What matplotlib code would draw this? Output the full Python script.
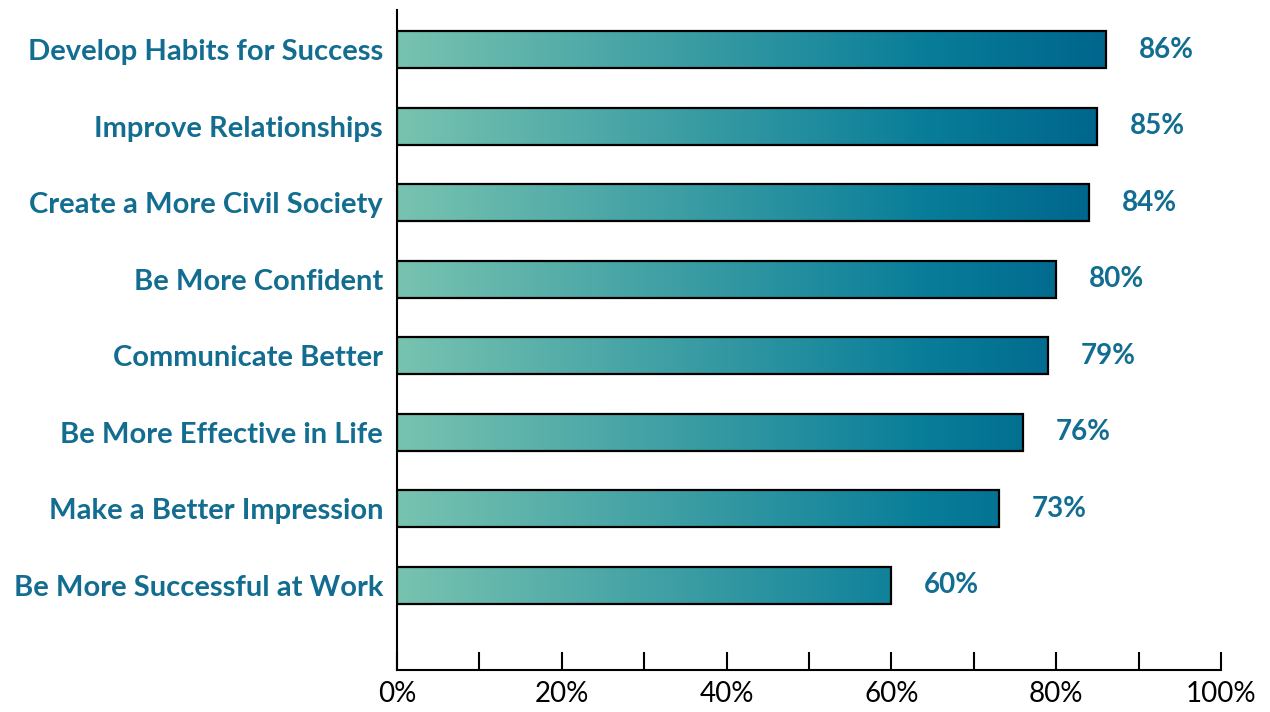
import numpy as np
from matplotlib import pyplot as plt
from matplotlib.colors import LinearSegmentedColormap

categories = ["Develop Habits for Success", "Improve Relationships",
              "Create a More Civil Society", "Be More Confident",
              "Communicate Better", "Be More Effective in Life",
              "Make a Better Impression", "Be More Successful at Work"]
values = [86, 85, 84, 80, 79, 76, 73, 60]
tick_labels = ["0%", "20%", "40%", "60%", "80%", "100%"]

label_color = "#126d91"
cmap = LinearSegmentedColormap.from_list(
    "teal", [(0.0, "#78c3b0"), (0.75, "#087d99"), (1.0, "#00658c")])

plt.rcParams["font.family"] = ["Lato", "DejaVu Sans"]

fig = plt.figure(figsize=(12.7, 7.12), dpi=100)
ax = fig.add_axes([0.3126, 0.059, 0.6488, 0.927])

bar_h = 0.485
ys = np.arange(len(values))
vmax = max(values)
for y, v in zip(ys, values):
    # gradient runs across the shared x scale, so shorter bars end lighter
    grad = np.linspace(0, v / vmax, 256).reshape(1, -1)
    ax.imshow(grad, cmap=cmap, vmin=0, vmax=1, aspect="auto",
              extent=(0, v, y + bar_h / 2, y - bar_h / 2), zorder=2,
              interpolation="bilinear")
ax.barh(ys, values, height=bar_h, facecolor="none", edgecolor="black",
        linewidth=1.6, zorder=3)

for y, v in zip(ys, values):
    ax.text(v + 4, y, f"{v}%", va="center", ha="left", fontsize=20,
            fontweight="bold", color=label_color)

ax.set_xlim(0, 100)
ax.set_ylim(len(values) - 1 + 1.11, -0.52)
ax.set_yticks(ys)
ax.set_yticklabels(categories, fontsize=21, fontweight="bold", color=label_color)
ax.tick_params(axis="y", length=0, pad=10)

ax.set_xticks(np.arange(0, 101, 20))
ax.set_xticklabels(tick_labels, fontsize=20)
ax.set_xticks(np.arange(0, 101, 10), minor=True)
ax.tick_params(axis="x", which="both", direction="in", length=13, width=1.5,
               pad=8, colors="black")

for side in ["top", "right"]:
    ax.spines[side].set_visible(False)
for side in ["left", "bottom"]:
    ax.spines[side].set_linewidth(1.5)

fig.savefig("out.png", dpi=100)
